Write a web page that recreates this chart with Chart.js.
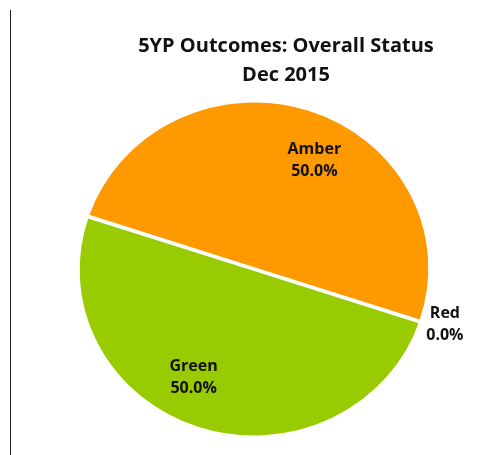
<!DOCTYPE html>
<html>
<head>
<meta charset="utf-8">
<script src="https://cdn.jsdelivr.net/npm/chart.js@4/dist/chart.umd.min.js"></script>
<style>
  html, body { margin:0; padding:0; background:#fff; }
  .wrap { position:relative; width:487px; height:455px; overflow:hidden; }
  .rule { position:absolute; left:10px; top:10px; width:1px; height:445px; background:#222; }
  .title {
    position:absolute; left:126px; top:30px; width:320px;
    text-align:center; font-family:"Open Sans", Lato, sans-serif;
    font-weight:700; font-size:20px; line-height:29px; color:#111;
  }
  canvas { position:absolute; left:0; top:0; }
</style>
</head>
<body>
<div class="wrap">
  <div class="rule"></div>
  <canvas id="pie" width="487" height="455"></canvas>
  <div class="title">5YP Outcomes: Overall Status<br>Dec 2015</div>
</div>
<script>
// данные
const categories = ['Amber', 'Red', 'Green'];
const shares = [50.0, 0.0, 50.0];

// цвета
const palette = ['#FF9900', '#FF0000', '#99CC00'];

// в оригинале круг слегка растянут по горизонтали
const stretchX = 1.05;

const stretch = {
  id: 'stretch',
  beforeDatasetsDraw(chart) {
    const cx = (chart.chartArea.left + chart.chartArea.right) / 2;
    const ctx = chart.ctx;
    ctx.save();
    ctx.translate(cx, 0); ctx.scale(stretchX, 1); ctx.translate(-cx, 0);
  },
  afterDatasetsDraw(chart) { chart.ctx.restore(); }
};

// подписи долей (имя + процент), как в Excel
const sliceLabels = {
  id: 'sliceLabels',
  afterDatasetsDraw(chart) {
    const { ctx } = chart;
    const meta = chart.getDatasetMeta(0);
    ctx.save();
    ctx.fillStyle = '#111';
    ctx.font = '700 16px "Open Sans", Lato, sans-serif';
    ctx.textAlign = 'center';
    ctx.textBaseline = 'middle';
    meta.data.forEach((arc, i) => {
      const { x, y, startAngle, endAngle, outerRadius } = arc.getProps(['x','y','startAngle','endAngle','outerRadius'], true);
      const mid = (startAngle + endAngle) / 2;
      let a, d;
      if (shares[i] > 0) { a = mid + 9.5 * Math.PI / 180; d = outerRadius * 0.74; }
      else { a = mid - 1.5 * Math.PI / 180; d = outerRadius + 24; }
      const lx = x + Math.cos(a) * d * stretchX, ly = y + Math.sin(a) * d;
      ctx.fillText(categories[i], lx, ly - 11);
      ctx.fillText(shares[i].toFixed(1) + '%', lx, ly + 11);
    });
    ctx.restore();
  }
};

new Chart(document.getElementById('pie').getContext('2d'), {
  type: 'pie',
  data: {
    labels: categories,
    datasets: [{
      data: shares,
      backgroundColor: palette,
      borderColor: '#fff',
      borderWidth: 2,
      offset: 3
    }]
  },
  options: {
    responsive: false,
    animation: false,
    rotation: -71.6,
    radius: 166,
    layout: { padding: { top: 83, bottom: 0, left: 21, right: 0 } },
    plugins: { legend: { display: false }, tooltip: { enabled: false }, title: { display: false } }
  },
  plugins: [stretch, sliceLabels]
});
</script>
</body>
</html>
